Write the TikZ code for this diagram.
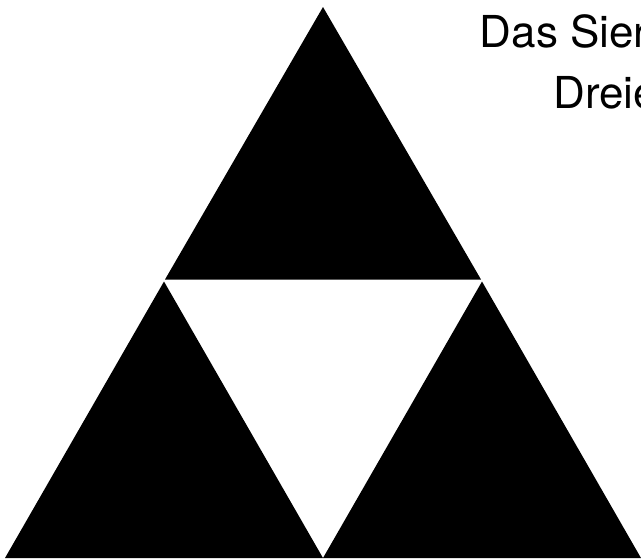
\documentclass[tikz,border=0pt]{standalone}
\usepackage{fontspec}
\setmainfont{TeX Gyre Heros}
\begin{document}
\begin{tikzpicture}[x=1pt,y=-1pt,
  piece/.style={fill=black,draw=none},
  titletext/.style={font=\fontsize{44}{61}\selectfont,align=center,anchor=base,inner sep=0pt}]
\useasboundingbox (0,0) rectangle (641,558);
\begin{scope}
\clip (0,0) rectangle (641,558);
\coordinate (A) at (5,558);
\coordinate (B) at (641,558);
\coordinate (C) at (323,7);
\coordinate (AB) at (323,558);
\coordinate (ACt) at (165,279.5);
\coordinate (BCt) at (481,279.5);
\coordinate (ACb) at (164,281.5);
\coordinate (BCb) at (482,281.5);
\fill[piece] (C) -- (ACt) -- (BCt) -- cycle;
\fill[piece] (A) -- (AB) -- (ACb) -- cycle;
\fill[piece] (AB) -- (B) -- (BCb) -- cycle;
\node[titletext] (title) at (628,108) {Das Sierpinski-\\Dreieck};
\end{scope}
\end{tikzpicture}
\end{document}
